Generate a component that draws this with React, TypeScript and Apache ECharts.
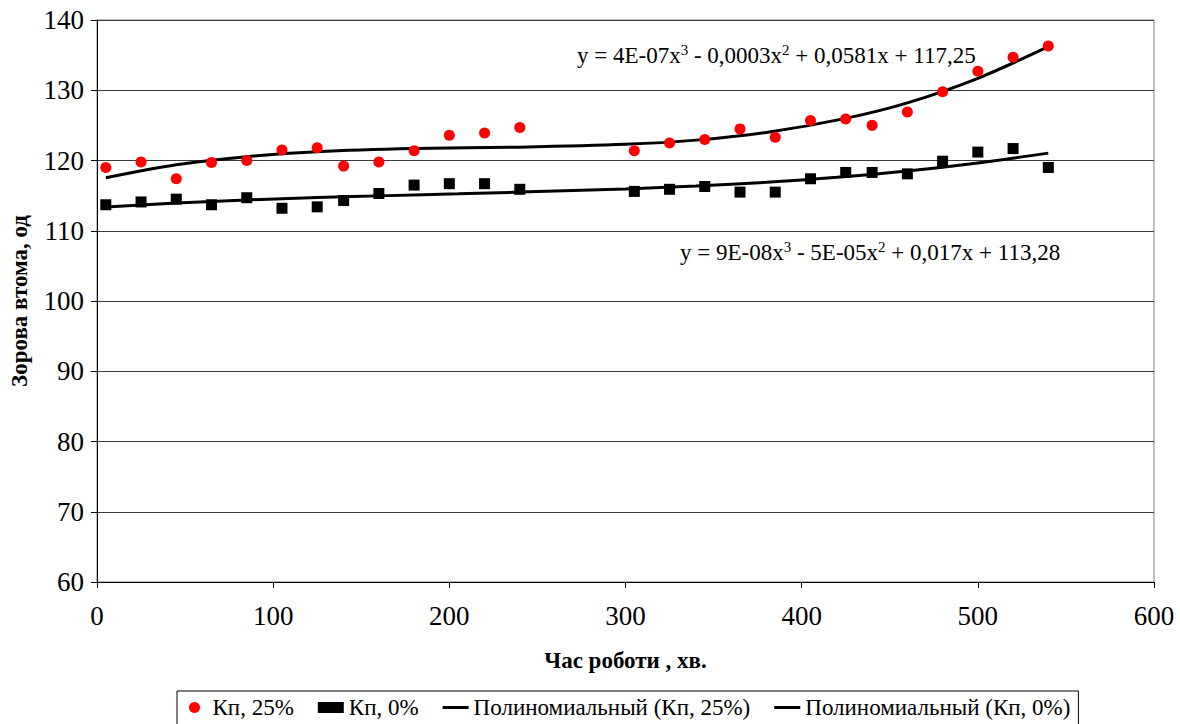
import React, { useEffect, useRef } from "react";
import * as echarts from "echarts";

const xKp25 = [5, 25, 45, 65, 85, 105, 125, 140, 160, 180, 200, 220, 240, 305, 325, 345, 365, 385, 405, 425, 440, 460, 480, 500, 520, 540];
const yKp25 = [119.0, 119.8, 117.4, 119.7, 120.0, 121.5, 121.8, 119.2, 119.8, 121.4, 123.6, 123.9, 124.7, 121.4, 122.5, 123.0, 124.5, 123.3, 125.7, 125.9, 125.0, 126.9, 129.8, 132.7, 134.7, 136.3];

const xKp0 = [5, 25, 45, 65, 85, 105, 125, 140, 160, 180, 200, 220, 240, 305, 325, 345, 365, 385, 405, 425, 440, 460, 480, 500, 520, 540];
const yKp0 = [113.7, 114.1, 114.5, 113.7, 114.7, 113.2, 113.4, 114.3, 115.3, 116.5, 116.7, 116.7, 115.9, 115.6, 115.9, 116.3, 115.5, 115.5, 117.4, 118.3, 118.3, 118.1, 119.9, 121.2, 121.7, 119.0];

// trend lines
const xTrend25 = [5, 45, 85, 125, 180, 240, 300, 340, 380, 425, 460, 500, 540];
const yTrend25 = [117.55, 119.4, 120.55, 121.25, 121.7, 121.9, 122.3, 122.9, 124.0, 126.0, 128.2, 131.7, 136.2];

const xTrend0 = [5, 45, 85, 125, 165, 205, 240, 300, 340, 380, 420, 460, 500, 540];
const yTrend0 = [113.37, 113.94, 114.39, 114.73, 115.0, 115.25, 115.5, 115.95, 116.38, 116.9, 117.6, 118.5, 119.65, 121.05];

const seriesNames = ["Кп, 25%", "Кп, 0%", "Полиномиальный (Кп, 25%)", "Полиномиальный (Кп, 0%)"];
const xTitle = "Час роботи , хв.";
const yTitle = "Зорова втома, од";
const eq25 = "y = 4E-07x{s|3} - 0,0003x{s|2} + 0,0581x + 117,25";
const eq0 = "y = 9E-08x{s|3} - 5E-05x{s|2} + 0,017x + 113,28";

const zip = (xs: number[], ys: number[]) => xs.map((x, i) => [x, ys[i]]);

const FONT = "Liberation Serif";

export default function App() {
  const ref = useRef<HTMLDivElement>(null);
  useEffect(() => {
    if (!ref.current) return;
    const chart = echarts.init(ref.current, null, { renderer: "svg" });
    const sup = { fontSize: 15, fontFamily: FONT, verticalAlign: "top", padding: [0, 0, 12, 0], fill: "#000" };
    const tickRich = { t: { fontSize: 27, fontFamily: FONT, color: "#000" } };
    chart.setOption({
      animation: false,
      backgroundColor: "#fff",
      textStyle: { fontFamily: FONT, fontSize: 22 },
      grid: {
        left: 96,
        right: 26,
        top: 20,
        bottom: 142,
        show: true,
        borderColor: "#808080",
        borderWidth: 1,
      },
      xAxis: {
        type: "value",
        min: 0,
        max: 600,
        interval: 100,
        name: xTitle,
        nameLocation: "middle",
        nameGap: 67,
        nameTextStyle: { fontFamily: FONT, fontSize: 23, fontWeight: "bold", color: "#000" },
        axisLine: { show: true, lineStyle: { color: "#000", width: 1 } },
        axisTick: { show: true, inside: false, length: 6, lineStyle: { color: "#000" } },
        axisLabel: {
          color: "#000",
          fontFamily: FONT,
          fontSize: 27,
          margin: 20,
          formatter: (v: number) => `{t|${v}}`,
          rich: tickRich,
        },
        splitLine: { show: false },
      },
      yAxis: {
        type: "value",
        min: 60,
        max: 140,
        interval: 10,
        name: yTitle,
        nameLocation: "middle",
        nameRotate: 90,
        nameGap: 66,
        nameTextStyle: { fontFamily: FONT, fontSize: 23, fontWeight: "bold", color: "#000" },
        axisLine: { show: true, lineStyle: { color: "#000", width: 1 } },
        axisTick: { show: true, inside: false, length: 6, lineStyle: { color: "#000" } },
        axisLabel: {
          color: "#000",
          fontFamily: FONT,
          fontSize: 27,
          margin: 13,
          formatter: (v: number) => `{t|${v}}`,
          rich: tickRich,
        },
        splitLine: { show: true, lineStyle: { color: "#3a3a3a", width: 1 } },
      },
      legend: {
        left: 177,
        top: 691,
        padding: [5, 8, 10, 12],
        borderColor: "#000",
        borderWidth: 1,
        itemGap: 24,
        itemWidth: 26,
        itemHeight: 11,
        textStyle: { fontFamily: FONT, fontSize: 23, color: "#000" },
        data: [
          { name: seriesNames[0], icon: "circle" },
          { name: seriesNames[1], icon: "rect" },
          { name: seriesNames[2], icon: "path://M0 0H26V3H0Z" },
          { name: seriesNames[3], icon: "path://M0 0H26V3H0Z" },
        ],
      },
      graphic: [
        {
          type: "text",
          left: 577,
          top: 42,
          style: {
            text: eq25,
            fontFamily: FONT,
            fontSize: 23,
            fill: "#000",
            rich: { s: sup },
          },
        },
        {
          type: "text",
          left: 680,
          top: 239,
          style: {
            text: eq0,
            fontFamily: FONT,
            fontSize: 23,
            fill: "#000",
            rich: { s: sup },
          },
        },
      ],
      series: [
        {
          name: seriesNames[2],
          type: "line",
          data: zip(xTrend25, yTrend25),
          smooth: 0.3,
          showSymbol: false,
          lineStyle: { color: "#000", width: 3 },
          itemStyle: { color: "#000" },
          z: 2,
        },
        {
          name: seriesNames[3],
          type: "line",
          data: zip(xTrend0, yTrend0),
          smooth: 0.3,
          showSymbol: false,
          lineStyle: { color: "#000", width: 3 },
          itemStyle: { color: "#000" },
          z: 2,
        },
        {
          name: seriesNames[0],
          type: "scatter",
          data: zip(xKp25, yKp25),
          symbol: "circle",
          symbolSize: 11,
          itemStyle: { color: "#ff0000", opacity: 1 },
          z: 3,
        },
        {
          name: seriesNames[1],
          type: "scatter",
          data: zip(xKp0, yKp0),
          symbol: "rect",
          symbolSize: 11,
          itemStyle: { color: "#000", opacity: 1 },
          z: 3,
        },
      ],
    });
    return () => chart.dispose();
  }, []);
  return <div ref={ref} style={{ width: 1180, height: 724, position: "fixed", left: 0, top: 0 }} />;
}
